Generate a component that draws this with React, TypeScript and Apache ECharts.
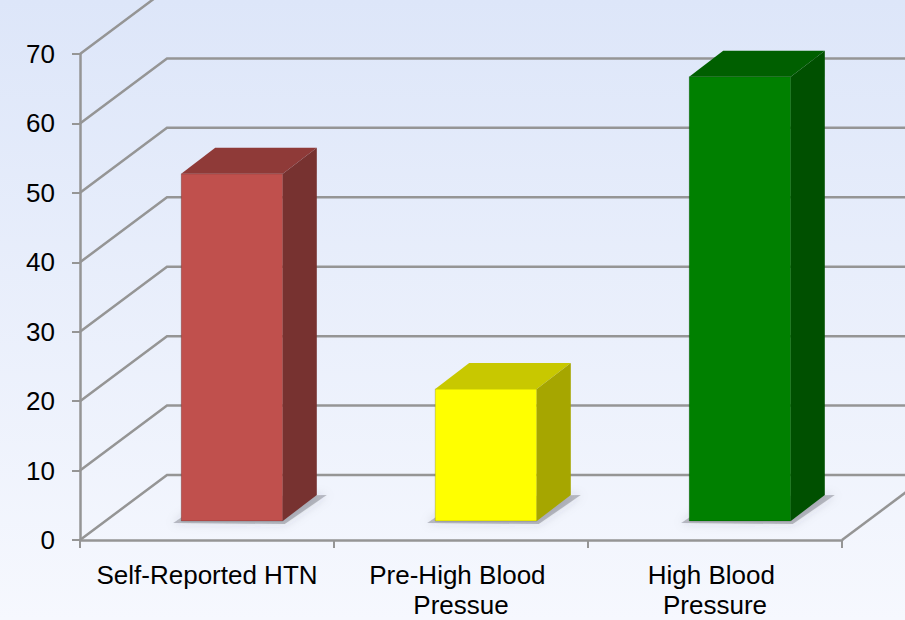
import React, { useEffect, useRef } from "react";
import * as echarts from "echarts";

const categories = ["Self-Reported HTN", "Pre-High Blood Pressue", "High Blood Pressure"];
const values = [50, 19, 64];
const yTicks = [0, 10, 20, 30, 40, 50, 60, 70];
const frontColors = ["#C0504D", "#FFFF00", "#008000"];
const topColors = ["#8F3A38", "#C8C800", "#005F00"];
const sideColors = ["#773230", "#A6A600", "#005000"];

// depth projection (px)
const WALL_DX = 87;
const WALL_DY = -65;
const BAR_FX = 25;
const BAR_FY = -19;
const BAR_DX = 34;
const BAR_DY = -26;
const GRID_COLOR = "#959595";
const FONT = "'Liberation Sans', Arial, sans-serif";

export default function App() {
  const ref = useRef<HTMLDivElement>(null);
  useEffect(() => {
    if (!ref.current) return;
    const chart = echarts.init(ref.current, undefined, { renderer: "svg" });
    const option: any = {
      animation: false,
      backgroundColor: {
        type: "linear",
        x: 0,
        y: 0,
        x2: 0,
        y2: 1,
        colorStops: [
          { offset: 0, color: "#DDE6F9" },
          { offset: 1, color: "#F6F8FE" },
        ],
      },
      grid: { left: 80, right: 63, top: 54, bottom: 76, containLabel: false },
      xAxis: {
        type: "category",
        data: categories,
        boundaryGap: true,
        axisLine: { show: true, lineStyle: { color: GRID_COLOR, width: 2.5 } },
        axisTick: { show: true, length: 8, lineStyle: { color: GRID_COLOR, width: 2 } },
        axisLabel: {
          color: "#000",
          fontSize: 26,
          fontFamily: FONT,
          margin: 20,
          lineHeight: 30,
          width: 230,
          overflow: "break",
          interval: 0,
        },
        splitLine: { show: false },
      },
      yAxis: {
        type: "value",
        min: 0,
        max: 70,
        interval: 10,
        axisLine: { show: true, lineStyle: { color: GRID_COLOR, width: 2.5 } },
        axisTick: { show: true, length: 8, lineStyle: { color: GRID_COLOR, width: 2 } },
        axisLabel: { color: "#000", fontSize: 26, fontFamily: FONT, margin: 25 },
        splitLine: { show: false },
      },
      series: [
        {
          type: "custom",
          z: 1,
          clip: false,
          silent: true,
          data: yTicks.map((v) => [0, v]),
          renderItem: (params: any, api: any) => {
            const cs = params.coordSys;
            const v = api.value(1);
            const y = api.coord([0, v])[1];
            const x0 = cs.x;
            const x1 = cs.x + cs.width;
            const children: any[] = [
              {
                type: "polyline",
                shape: {
                  points: [
                    [x0, y],
                    [x0 + WALL_DX, y + WALL_DY],
                    [x1 + WALL_DX, y + WALL_DY],
                  ],
                },
                style: { stroke: GRID_COLOR, lineWidth: 2.5, fill: "none" },
              },
            ];
            if (v === 0) {
              children.push({
                type: "line",
                shape: { x1: x1, y1: y, x2: x1 + WALL_DX, y2: y + WALL_DY },
                style: { stroke: GRID_COLOR, lineWidth: 2.5 },
              });
            }
            return { type: "group", children };
          },
        },
        {
          type: "custom",
          z: 3,
          clip: false,
          data: values.map((v, i) => [i, v]),
          renderItem: (params: any, api: any) => {
            const idx = api.value(0);
            const val = api.value(1);
            const base = api.coord([idx, 0]);
            const top = api.coord([idx, val]);
            const band = api.size([1, 0])[0];
            const w = band * 0.4;
            const fx = base[0] - w / 2 + BAR_FX;
            const by = base[1] + BAR_FY;
            const ty = top[1] + BAR_FY;
            const i = params.dataIndex;
            return {
              type: "group",
              children: [
                {
                  type: "polygon",
                  shape: {
                    points: [
                      [fx - 8, by + 2],
                      [fx + BAR_DX - 4, by + BAR_DY + 2],
                      [fx + w + BAR_DX + 10, by + BAR_DY],
                      [fx + w + 2, by + 3],
                    ],
                  },
                  style: {
                    fill: "rgba(60,60,70,0.3)",
                    shadowBlur: 10,
                    shadowColor: "rgba(60,60,70,0.5)",
                  },
                },
                {
                  type: "rect",
                  shape: { x: fx, y: ty, width: w, height: by - ty },
                  style: { fill: frontColors[i], stroke: "rgba(0,0,0,0.18)", lineWidth: 1 },
                },
                {
                  type: "polygon",
                  shape: {
                    points: [
                      [fx, ty],
                      [fx + BAR_DX, ty + BAR_DY],
                      [fx + w + BAR_DX, ty + BAR_DY],
                      [fx + w, ty],
                    ],
                  },
                  style: { fill: topColors[i] },
                },
                {
                  type: "polygon",
                  shape: {
                    points: [
                      [fx + w, ty],
                      [fx + w + BAR_DX, ty + BAR_DY],
                      [fx + w + BAR_DX, by + BAR_DY],
                      [fx + w, by],
                    ],
                  },
                  style: { fill: sideColors[i] },
                },
              ],
            };
          },
        },
      ],
    };
    chart.setOption(option);
    return () => chart.dispose();
  }, []);
  return (
    <div
      ref={ref}
      style={{ position: "fixed", left: 0, top: 0, width: 905, height: 620 }}
    />
  );
}
